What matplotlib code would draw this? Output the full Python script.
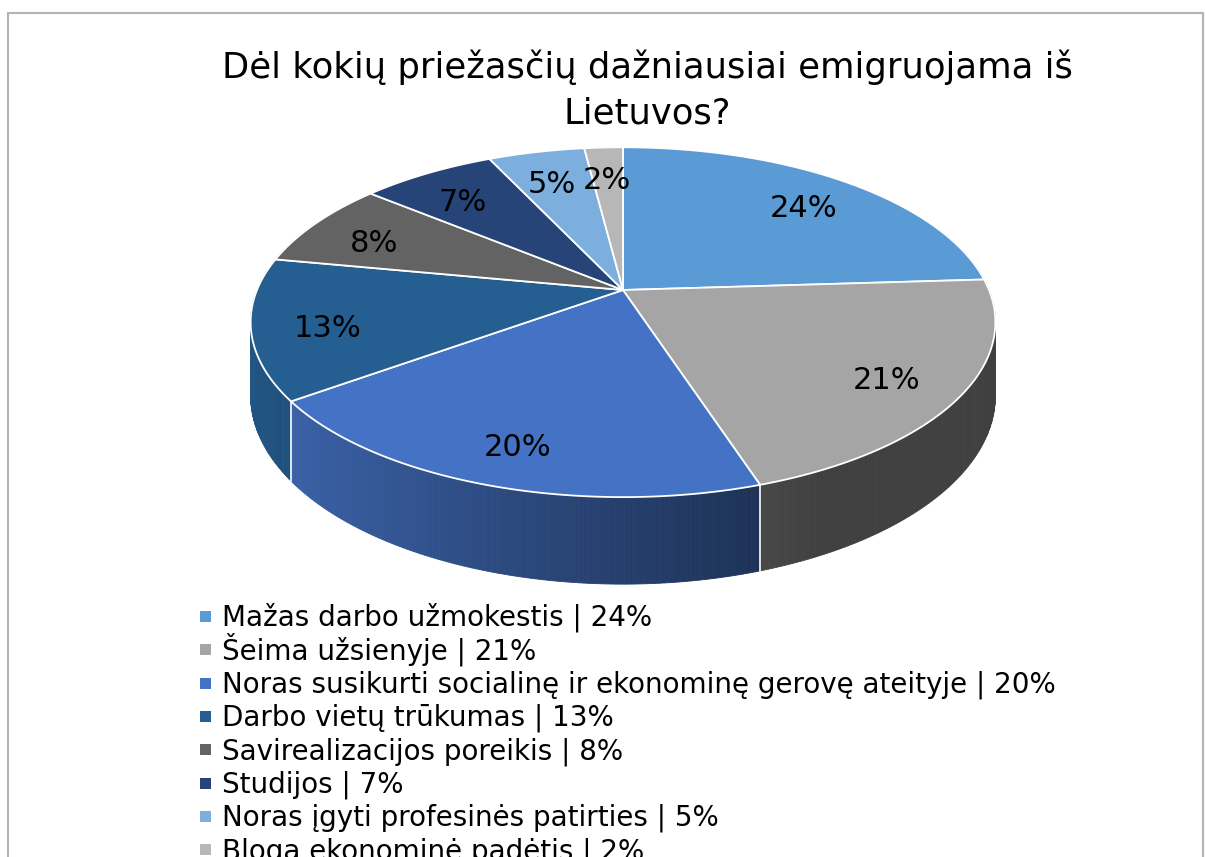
import numpy as np
import matplotlib.pyplot as plt
from matplotlib.patches import Polygon
from matplotlib.colors import to_rgb

plt.rcParams['font.family'] = ['DejaVu Sans']

title_lines = ['Dėl kokių priežasčių dažniausiai emigruojama iš', 'Lietuvos?']
reasons = ['Mažas darbo užmokestis', 'Šeima užsienyje',
           'Noras susikurti socialinę ir ekonominę gerovę ateityje',
           'Darbo vietų trūkumas', 'Savirealizacijos poreikis', 'Studijos',
           'Noras įgyti profesinės patirties', 'Bloga ekonominė padėtis']
shares = [24, 21, 20, 13, 8, 7, 5, 2]
colors = ['#5B9BD5', '#A5A5A5', '#4472C4', '#255E91',
          '#636363', '#264478', '#7CAFDD', '#B7B7B7']

# perspective of the tilted disc (pixel units)
cx, cy = 623, 290
sx, sy, k, depth = 366, 169, 0.184, 71


def proj(phi, r=1.0):
    u = r * np.sin(phi)
    v = r * np.cos(phi)
    w = 1 + k * v
    return cx + sx * u / w, cy - sy * v / w, depth / w


fig = plt.figure(figsize=(12.05, 8.57), dpi=100)
ax = fig.add_axes([0, 0, 1, 1])
ax.set_xlim(0, 1205)
ax.set_ylim(857, 0)
ax.axis('off')

# chart frame
ax.plot([8, 8, 1203, 1203], [857, 13, 13, 857], color='#b3b3b3', lw=1.5,
        solid_joinstyle='miter')

vals = np.array(shares, dtype=float)
edges = np.concatenate([[0], np.cumsum(vals) / vals.sum()]) * 2 * np.pi

# side walls, drawn as thin shaded strips
for i in range(len(vals)):
    a0, a1 = edges[i], edges[i + 1]
    n = max(int((a1 - a0) / 0.01), 2)
    ph = np.linspace(a0, a1, n + 1)
    base = np.array(to_rgb(colors[i]))
    for j in range(n):
        if np.cos(ph[j]) > 0.4:
            continue
        x0, y0, d0 = proj(ph[j])
        x1, y1, d1 = proj(ph[j + 1])
        f = np.clip(0.553 - 0.366 * np.sin((ph[j] + ph[j + 1]) / 2), 0.39, 0.9)
        c = base * f
        ax.add_patch(Polygon([(x0, y0), (x1, y1), (x1, y1 + d1), (x0, y0 + d0)],
                             closed=True, facecolor=c, edgecolor=c, lw=0.6,
                             zorder=2))

# seams between walls
for a in edges[:-1]:
    if np.cos(a) < 0.4:
        x0, y0, d0 = proj(a)
        ax.plot([x0, x0], [y0, y0 + d0], color='white', lw=1.2, zorder=3)

# top faces
for i in range(len(vals)):
    ph = np.linspace(edges[i], edges[i + 1], 200)
    xs, ys, _ = proj(ph)
    pts = [(cx, cy)] + list(zip(xs, ys))
    ax.add_patch(Polygon(pts, closed=True, facecolor=colors[i],
                         edgecolor='white', lw=1.3, zorder=4))

# percentage labels
for i in range(len(vals)):
    mid = (edges[i] + edges[i + 1]) / 2
    lx, ly, _ = proj(mid, 0.8)
    ax.text(lx, ly + 8, f'{shares[i]}%', fontsize=22, color='black',
            ha='center', va='center', zorder=5)

for i, line in enumerate(title_lines):
    ax.text(647, 78 + 45 * i, line, fontsize=25.5, ha='center', va='baseline')

# legend
for i, (name, s) in enumerate(zip(reasons, shares)):
    base = 626 + 33.3 * i
    ax.add_patch(Polygon([(200, base - 15), (211, base - 15), (211, base - 4),
                          (200, base - 4)], closed=True, facecolor=colors[i],
                         edgecolor='none'))
    ax.text(222, base, f'{name} | {s}%', fontsize=20, va='baseline',
            ha='left')

fig.savefig('out.png', dpi=100)
